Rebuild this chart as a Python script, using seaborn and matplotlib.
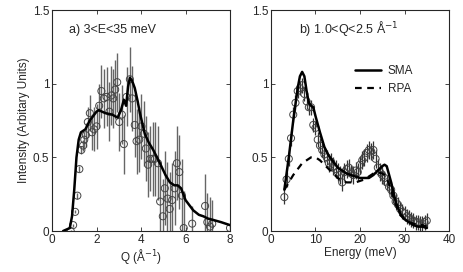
import numpy as np
import pandas as pd
import seaborn as sns
import matplotlib
matplotlib.use("Agg")
import matplotlib.pyplot as plt

# panel a: intensity vs Q
q_pts = [0.84, 0.95, 1.04, 1.14, 1.23, 1.32, 1.40, 1.45, 1.52, 1.61, 1.70, 1.80, 1.89, 2.00,
         2.12, 2.22, 2.33, 2.45, 2.58, 2.67, 2.75, 2.84, 2.93, 3.02, 3.14, 3.23, 3.35, 3.50,
         3.60, 3.72, 3.80, 3.92, 4.02, 4.13, 4.22, 4.32, 4.41, 4.52, 4.62, 4.76, 4.86, 4.98,
         5.07, 5.19, 5.29, 5.40, 5.51, 5.61, 5.72, 5.84, 5.92, 6.30, 6.88, 6.98, 7.10, 7.20, 8.0]
q_int = [0.0, 0.04, 0.13, 0.24, 0.42, 0.55, 0.58, 0.62, 0.65, 0.74, 0.80, 0.67, 0.69, 0.71,
         0.85, 0.95, 0.90, 0.91, 0.81, 0.92, 0.90, 0.96, 1.01, 0.74, 0.79, 0.59, 0.91, 1.03,
         0.90, 0.72, 0.61, 0.62, 0.71, 0.66, 0.56, 0.45, 0.49, 0.49, 0.49, 0.46, 0.20, 0.10,
         0.29, 0.22, 0.15, 0.21, 0.29, 0.46, 0.40, 0.24, 0.02, 0.05, 0.17, 0.06, 0.03, 0.05, 0.02]
q_err = [0.01, 0.01, 0.01, 0.02, 0.02, 0.03, 0.04, 0.05, 0.08, 0.10, 0.12, 0.12, 0.15, 0.15,
         0.15, 0.18, 0.20, 0.20, 0.20, 0.20, 0.20, 0.20, 0.20, 0.20, 0.20, 0.20, 0.20, 0.22,
         0.22, 0.22, 0.22, 0.22, 0.22, 0.22, 0.22, 0.22, 0.22, 0.25, 0.25, 0.25, 0.25, 0.25,
         0.25, 0.25, 0.25, 0.25, 0.25, 0.25, 0.25, 0.25, 0.25, 0.12, 0.22, 0.20, 0.20, 0.16, 0.02]
q_line = [0.5, 0.8, 0.9, 1.0, 1.1, 1.2, 1.3, 1.5, 1.7, 2.0, 2.1, 2.4, 2.7, 2.95, 3.1, 3.23,
          3.33, 3.42, 3.5, 3.6, 3.72, 3.85, 3.95, 4.17, 4.35, 4.55, 4.85, 5.1, 5.3, 5.5, 5.65,
          5.8, 6.0, 6.2, 6.35, 6.6, 6.8, 7.0, 7.25, 7.6, 8.0]
i_line = [0.0, 0.02, 0.1, 0.28, 0.5, 0.62, 0.67, 0.69, 0.75, 0.81, 0.82, 0.80, 0.79, 0.77, 0.82,
          0.89, 0.85, 0.98, 1.04, 1.02, 0.97, 0.88, 0.80, 0.66, 0.60, 0.55, 0.46, 0.38, 0.33,
          0.31, 0.31, 0.29, 0.21, 0.17, 0.14, 0.11, 0.10, 0.085, 0.075, 0.06, 0.04]

# panel b: intensity vs energy
e_pts = [3.0 + 0.5 * k for k in range(65)]
e_int = [0.23, 0.35, 0.49, 0.63, 0.79, 0.87, 0.95, 0.97, 0.99, 0.93, 0.88, 0.84, 0.84, 0.72,
         0.70, 0.62, 0.58, 0.55, 0.52, 0.50, 0.46, 0.47, 0.44, 0.42, 0.40, 0.38, 0.33, 0.40,
         0.42, 0.43, 0.39, 0.38, 0.41, 0.40, 0.45, 0.48, 0.50, 0.53, 0.55, 0.54, 0.55, 0.49,
         0.43, 0.40, 0.38, 0.36, 0.33, 0.30, 0.28, 0.24, 0.20, 0.18, 0.15, 0.13, 0.12, 0.10,
         0.09, 0.08, 0.07, 0.06, 0.06, 0.05, 0.05, 0.06, 0.07]
e_err = [0.05] * 20 + [0.06] * 25 + [0.05] * 20
e_line = [3, 4, 5, 6, 6.5, 7, 7.5, 8, 8.5, 9, 9.5, 10, 11, 12, 13, 14, 15, 16, 17, 18, 19,
          20, 21, 22, 23, 24, 25, 25.5, 26, 27, 28, 29, 30, 31, 32, 33, 34, 35]
sma = [0.28, 0.50, 0.75, 0.97, 1.05, 1.08, 1.05, 0.95, 0.87, 0.85, 0.84, 0.78, 0.67, 0.57,
       0.51, 0.47, 0.43, 0.41, 0.39, 0.38, 0.37, 0.36, 0.36, 0.36, 0.38, 0.41, 0.44, 0.45,
       0.44, 0.33, 0.20, 0.12, 0.08, 0.06, 0.04, 0.03, 0.03, 0.02]
rpa = [0.28, 0.33, 0.38, 0.42, 0.44, 0.46, 0.47, 0.48, 0.49, 0.50, 0.50, 0.50, 0.48, 0.45,
       0.42, 0.39, 0.36, 0.34, 0.33, 0.33, 0.33, 0.34, 0.35, 0.37, 0.39, 0.40, 0.39, 0.38,
       0.36, 0.28, 0.18, 0.11, 0.08, 0.06, 0.05, 0.04, 0.04, 0.03]

sns.set_style("ticks")
plt.rcParams['font.family'] = ['Liberation Sans', 'DejaVu Sans']
plt.rcParams['font.size'] = 8.5
plt.rcParams['xtick.direction'] = 'in'
plt.rcParams['ytick.direction'] = 'in'

fig = plt.figure(figsize=(4.63, 2.72), dpi=100)
ax1 = fig.add_axes([0.1123, 0.1507, 0.3845, 0.8125])
ax2 = fig.add_axes([0.5853, 0.1507, 0.3845, 0.8125])

# panel a
ax1.errorbar(q_pts, q_int, yerr=q_err, fmt='none', ecolor='#666666', elinewidth=1.0, zorder=1)
sns.scatterplot(x=q_pts, y=q_int, ax=ax1, marker='o', s=26, facecolor='none',
                edgecolor='#444444', linewidth=0.7, zorder=2)
sns.lineplot(x=q_line, y=i_line, ax=ax1, color='black', linewidth=1.8, zorder=3)
ax1.set_xlim(0, 8)
ax1.set_ylim(0, 1.5)
ax1.set_xticks([0, 2, 4, 6, 8])
ax1.set_yticks([0, 0.5, 1, 1.5])
ax1.set_yticklabels(['0', '0.5', '1', '1.5'])
ax1.set_xlabel('Q (Å$^{-1}$)', labelpad=1)
ax1.set_ylabel('Intensity (Arbitary Units)', labelpad=2)
ax1.text(0.095, 0.895, 'a) 3<E<35 meV', transform=ax1.transAxes, fontsize=9)

# panel b
ax2.errorbar(e_pts, e_int, yerr=e_err, fmt='none', ecolor='#333333', elinewidth=0.9, zorder=1)
sns.scatterplot(x=e_pts, y=e_int, ax=ax2, marker='o', s=26, facecolor='none',
                edgecolor='#444444', linewidth=0.7, zorder=2)
sns.lineplot(x=e_line, y=sma, ax=ax2, color='black', linewidth=1.8, zorder=3, label='SMA')
sns.lineplot(x=e_line, y=rpa, ax=ax2, color='black', linewidth=1.6, zorder=3,
             linestyle=(0, (3, 2.5)), label='RPA')
ax2.set_xlim(0, 40)
ax2.set_ylim(0, 1.5)
ax2.set_xticks([0, 10, 20, 30, 40])
ax2.set_yticks([0, 0.5, 1, 1.5])
ax2.set_yticklabels(['0', '0.5', '1', '1.5'])
ax2.set_xlabel('Energy (meV)', labelpad=1)
ax2.text(0.16, 0.895, 'b) 1.0<Q<2.5 Å$^{-1}$', transform=ax2.transAxes, fontsize=9)
ax2.legend(loc='upper left', bbox_to_anchor=(0.41, 0.80), frameon=False,
           handlelength=2.2, handletextpad=0.6, labelspacing=0.5, fontsize=8.5)

for ax in (ax1, ax2):
    ax.tick_params(top=True, right=True, length=3, width=0.6, pad=2, labelsize=8.5)
    for s in ax.spines.values():
        s.set_linewidth(0.8)
        s.set_visible(True)

plt.savefig('out.png', dpi=100)
